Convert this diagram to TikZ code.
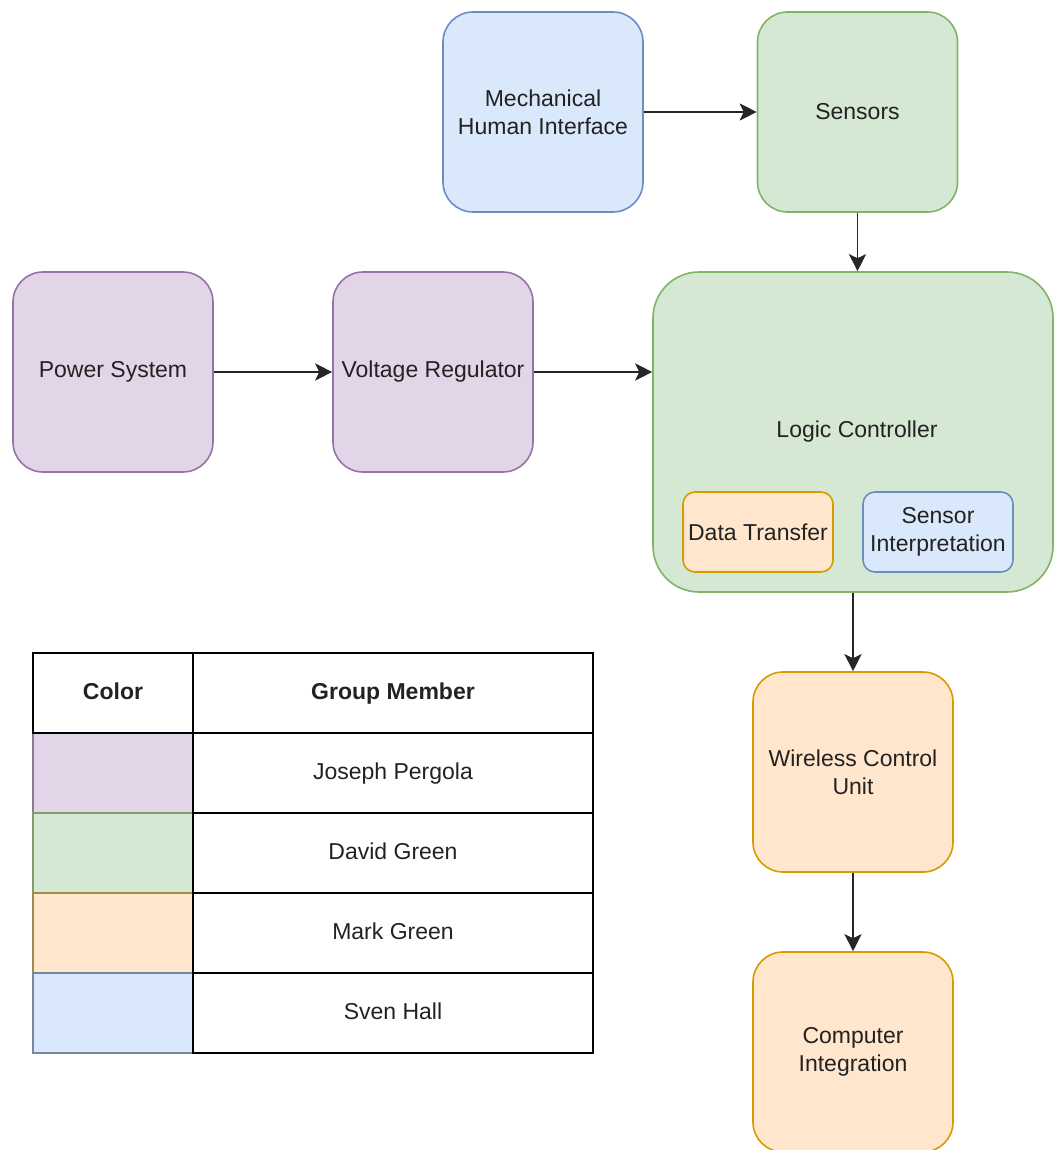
\documentclass[tikz,border=0pt]{standalone}
\usepackage{fontspec}
\setmainfont{Liberation Sans}
\usetikzlibrary{arrows.meta}
\definecolor{purF}{HTML}{E1D5E7}\definecolor{purD}{HTML}{9673A6}
\definecolor{grnF}{HTML}{D5E8D4}\definecolor{grnD}{HTML}{82B366}
\definecolor{bluF}{HTML}{DAE8FC}\definecolor{bluD}{HTML}{6C8EBF}
\definecolor{orgF}{HTML}{FFE6CC}\definecolor{orgD}{HTML}{D79B00}
\definecolor{txt}{HTML}{222222}
\begin{document}
\begin{tikzpicture}[x=1pt,y=-1pt,
  lbl/.style={font=\fontsize{23}{28}\selectfont, text=txt, align=center},
  blk/.style={lbl, rectangle, rounded corners=30pt, minimum width=200pt, minimum height=200pt, line width=1.6pt, inner sep=1pt},
  pur/.style={blk, fill=purF, draw=purD},
  grn/.style={blk, fill=grnF, draw=grnD},
  org/.style={blk, fill=orgF, draw=orgD},
  blu/.style={blk, fill=bluF, draw=bluD},
  arr/.style={line width=1.8pt, draw=black!85, -{Stealth[length=17pt,width=17pt,inset=4pt]}},
  cell/.style={lbl, rectangle, minimum height=80pt, line width=1.6pt, inner sep=0pt, text height=17pt, text depth=5pt},
  ccell/.style={cell, minimum width=160pt},
  ncell/.style={cell, minimum width=400pt, draw=black},
]
\useasboundingbox (0,0) rectangle (1053,1150);
\fill[white] (0,0) rectangle (1053,1150);

% top row
\node[blu] (mhi) at (543,112) {Mechanical\\Human Interface};
\node[grn] (sens) at (857.5,112) {Sensors};

% middle row
\node[pur] (pow) at (113,372) {Power System};
\node[pur] (vr) at (433,372) {Voltage Regulator};

% logic controller
\node[grn, minimum width=400pt, minimum height=320pt, rounded corners=46pt] (lc) at (853,432) {};
\node[lbl] (lct) at (857,432) {Logic Controller};
\node[org, minimum width=150pt, minimum height=80pt, rounded corners=12pt] (dt) at (758,532) {Data Transfer};
\node[blu, minimum width=150pt, minimum height=80pt, rounded corners=12pt] (si) at (938,532) {Sensor\\Interpretation};

% bottom column
\node[org] (wcu) at (853,772) {Wireless Control\\Unit};
\node[org] (ci) at (853,1052) {Computer\\Integration};

% connectors
\draw[arr] (mhi.east) -- (sens.west);
\draw[arr] (sens.south) -- (sens.south |- lc.north);
\draw[arr] (pow.east) -- (vr.west);
\draw[arr] (vr.east) -- (vr.east -| lc.west);
\draw[arr] (wcu.north |- lc.south) -- (wcu.north);
\draw[arr] (wcu.south) -- (ci.north);

% legend table
\node[ccell, fill=purF, draw=purD!60!gray] (c1) at (113,773) {};
\node[ccell, fill=grnF, draw=grnD!60!gray] (c2) at (113,853) {};
\node[ccell, fill=orgF, draw=orgD!40!gray] (c3) at (113,933) {};
\node[ccell, fill=bluF, draw=bluD!60!gray] (c4) at (113,1013) {};
\node[ccell, draw=black] (hc) at (113,693) {\bfseries Color};
\node[ncell] (hm) at (393,693) {\bfseries Group Member};
\node[ncell] (m1) at (393,773) {Joseph Pergola};
\node[ncell] (m2) at (393,853) {David Green};
\node[ncell] (m3) at (393,933) {Mark Green};
\node[ncell] (m4) at (393,1013) {Sven Hall};
\end{tikzpicture}
\end{document}
